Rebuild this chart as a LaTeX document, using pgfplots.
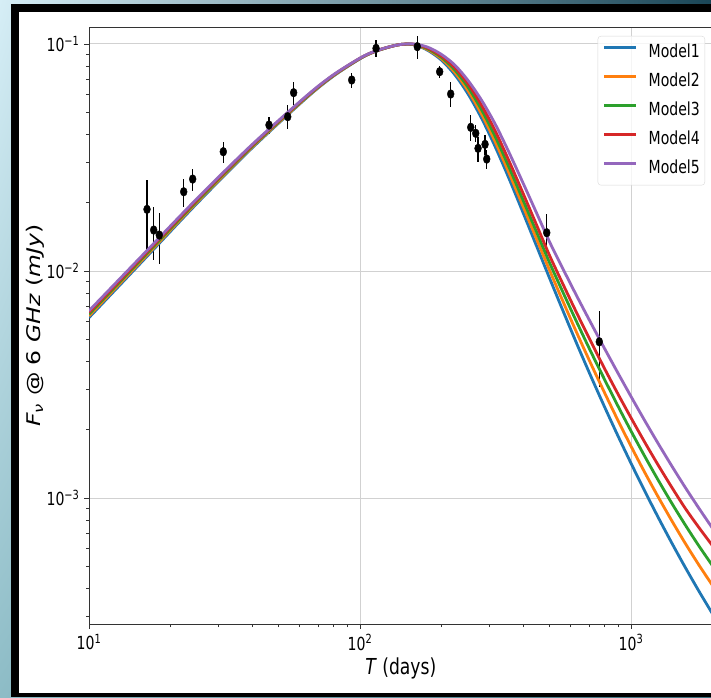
\documentclass[border=0pt]{standalone}
\usepackage{pgfplots}
\usepackage{pgfplotstable}
\pgfplotsset{compat=1.18}
\usetikzlibrary{shadings}
\usepackage{fontspec}
\setmainfont{DejaVu Sans}[FakeStretch=0.78]
\newfontfamily\widefont{DejaVu Sans}

\definecolor{mblue}{HTML}{1F77B4}
\definecolor{morange}{HTML}{FF7F0E}
\definecolor{mgreen}{HTML}{2CA02C}
\definecolor{mred}{HTML}{D62728}
\definecolor{mpurple}{HTML}{9467BD}
\definecolor{bgA}{HTML}{D6EEF6}
\definecolor{bgB}{HTML}{1A4657}
\definecolor{bgC}{HTML}{8DBCC6}
\definecolor{bgD}{HTML}{3C6F7D}

% model light curves: time (days) and flux density (mJy) for the five models
\pgfplotstableread{
T       m1          m2          m3          m4          m5
10      0.0062374   0.0063460   0.0064565   0.0065692   0.0066834
15.849  0.011143    0.011310    0.011482    0.011655    0.011830
25.119  0.019953    0.020198    0.020441    0.020692    0.020941
39.811  0.034674    0.034979    0.035278    0.035588    0.035892
63.096  0.057544    0.057850    0.058144    0.058452    0.058749
79.433  0.071949    0.072198    0.072448    0.072699    0.072950
100     0.086099    0.086257    0.086397    0.086556    0.086696
112.20  0.092045    0.092151    0.092257    0.092363    0.092470
125.89  0.096383    0.096450    0.096494    0.096560    0.096605
141.25  0.099541    0.099541    0.099541    0.099541    0.099541
158.49  0.099312    0.099426    0.099540    0.099771    0.100000
177.83  0.093756    0.094406    0.095170    0.095940    0.096827
199.53  0.085016    0.086199    0.087398    0.088614    0.090053
223.87  0.073200    0.074991    0.076826    0.078706    0.080725
251.19  0.059841    0.061944    0.064121    0.066374    0.068707
281.84  0.046721    0.048753    0.050934    0.053335    0.056171
316.23  0.035038    0.036858    0.038863    0.041166    0.044110
354.81  0.025527    0.027039    0.028642    0.030514    0.033266
398.11  0.018281    0.019499    0.020749    0.022233    0.024660
446.68  0.013017    0.013996    0.014997    0.016107    0.018176
501.19  0.0092683   0.010046    0.010839    0.011668    0.013397
562.34  0.0066374   0.0073027   0.0080075   0.0086995   0.010162
630.96  0.0047809   0.0053396   0.0059499   0.0065239   0.0077537
707.95  0.0034804   0.0039503   0.0044580   0.0049390   0.0059653
794.33  0.0025586   0.0029512   0.0033729   0.0037671   0.0046132
891.25  0.0018993   0.0022212   0.0025680   0.0029013   0.0035859
1000    0.0014237   0.0016920   0.0019743   0.0022564   0.0028017
1122.0  0.0010777   0.0013017   0.0015328   0.0017680   0.0022004
1258.9  0.00082375  0.0010134   0.0012017   0.0013989   0.0017410
1412.5  0.00063591  0.00079689  0.00095148  0.0011179   0.0013880
1584.9  0.00049569  0.00063272  0.00076245  0.00090201  0.0011148
1778.3  0.00039023  0.00050854  0.00061706  0.00074357  0.00090432
2000    0.00030881  0.00041181  0.00050315  0.00061616  0.00073569
}\models

% 6 GHz measurements with 1-sigma errors
\pgfplotstableread{
T      F         e
16.37  0.01870   0.0065
17.33  0.01516   0.0040
18.17  0.01441   0.0037
22.36  0.02235   0.0032
24.13  0.02542   0.0028
31.30  0.03355   0.0035
46.15  0.04396   0.0037
54.10  0.04783   0.0058
56.90  0.06103   0.0072
93.20  0.06941   0.0052
114.6  0.09570   0.0080
162.7  0.09730   0.0114
196.8  0.07551   0.0045
216.1  0.06022   0.0076
256.2  0.04296   0.0055
267.3  0.04043   0.0035
272.6  0.03471   0.0044
289.3  0.03614   0.0036
293.5  0.03114   0.0031
488.7  0.01475   0.0030
763.8  0.004881  0.0018
}\obs

\begin{document}
\begin{tikzpicture}[x=1pt,y=1pt]
\useasboundingbox (0,0) rectangle (711,697);
% window backdrop and frame
\shade[upper left=bgA, upper right=bgB, lower left=bgC, lower right=bgD] (0,0) rectangle (711,697);
\fill[black] (11,0) rectangle (711,693);
\fill[white] (19,4) rectangle (711,685);

\begin{axis}[
  at={(89pt,73pt)}, anchor=south west,
  scale only axis, width=623.6pt, height=597pt,
  xmode=log, ymode=log,
  xmin=10, xmax=2000, ymin=2.79e-4, ymax=0.1188,
  xtick={10,100,1000},
  xticklabels={10\textsuperscript{1},10\textsuperscript{2},10\textsuperscript{3}},
  minor xtick={20,30,40,50,60,70,80,90,200,300,400,500,600,700,800,900,2000},
  ytick={0.001,0.01,0.1},
  yticklabels={10\textsuperscript{−3},10\textsuperscript{−2},10\textsuperscript{−1}},
  minor ytick={3e-4,4e-4,5e-4,6e-4,7e-4,8e-4,9e-4,2e-3,3e-3,4e-3,5e-3,6e-3,7e-3,8e-3,9e-3,0.02,0.03,0.04,0.05,0.06,0.07,0.08,0.09},
  tick pos=left, tick align=outside,
  major tick length=5pt, minor tick length=3pt,
  tick style={black!80, line width=0.9pt},
  axis line style={black!80, line width=1pt},
  grid=major, major grid style={black!18, line width=1pt},
  tick label style={font=\fontsize{18}{20}\selectfont},
  xticklabel style={yshift=-2pt},
  yticklabel style={xshift=-1pt},
  xlabel={\textit{T} (days)},
  xlabel style={font=\fontsize{22}{25}\selectfont, at={(axis description cs:0.5,-0.0745)}, anchor=center},
  ylabel={\scalebox{1}[0.8]{\widefont\fontsize{23.5}{26}\selectfont\textit{F}\textsubscript{\textit{ν}} @ 6 \textit{GHz} (\textit{mJy})}},
  ylabel style={at={(axis description cs:-0.0866,0.5)}, anchor=center},
  legend style={at={(0.9878,0.985)}, anchor=north east,
    draw=black!15, rounded corners=3pt, fill=white, fill opacity=0.8, text opacity=1,
    font=\fontsize{18}{20}\selectfont, inner xsep=5pt, inner ysep=8.5pt,
    row sep=13pt, column sep=11pt,
    nodes={inner sep=0pt, text height=13pt, text depth=3pt}},
  legend cell align=left,
  legend image code/.code={\draw[#1, line width=2.8pt] (0pt,5pt) -- (32pt,5pt);},
]
% error bars sit underneath the model curves
\addplot[draw=none, mark=none, forget plot,
  error bars/.cd, y dir=both, y explicit,
  error mark=none, error bar style={draw=black, line width=1.4pt}]
  table[x=T, y=F, y error=e] {\obs};

\addplot[mblue,   line width=2.8pt, smooth] table[x=T, y=m1] {\models};
\addlegendentry{Model1}
\addplot[morange, line width=2.8pt, smooth] table[x=T, y=m2] {\models};
\addlegendentry{Model2}
\addplot[mgreen,  line width=2.8pt, smooth] table[x=T, y=m3] {\models};
\addlegendentry{Model3}
\addplot[mred,    line width=2.8pt, smooth] table[x=T, y=m4] {\models};
\addlegendentry{Model4}
\addplot[mpurple, line width=2.8pt, smooth] table[x=T, y=m5] {\models};
\addlegendentry{Model5}

% measured points on top
\addplot[only marks, black, mark=*, mark size=4.4pt, forget plot,
  mark options={xscale=0.78, fill=black, draw=black}]
  table[x=T, y=F] {\obs};
\end{axis}
\end{tikzpicture}
\end{document}
